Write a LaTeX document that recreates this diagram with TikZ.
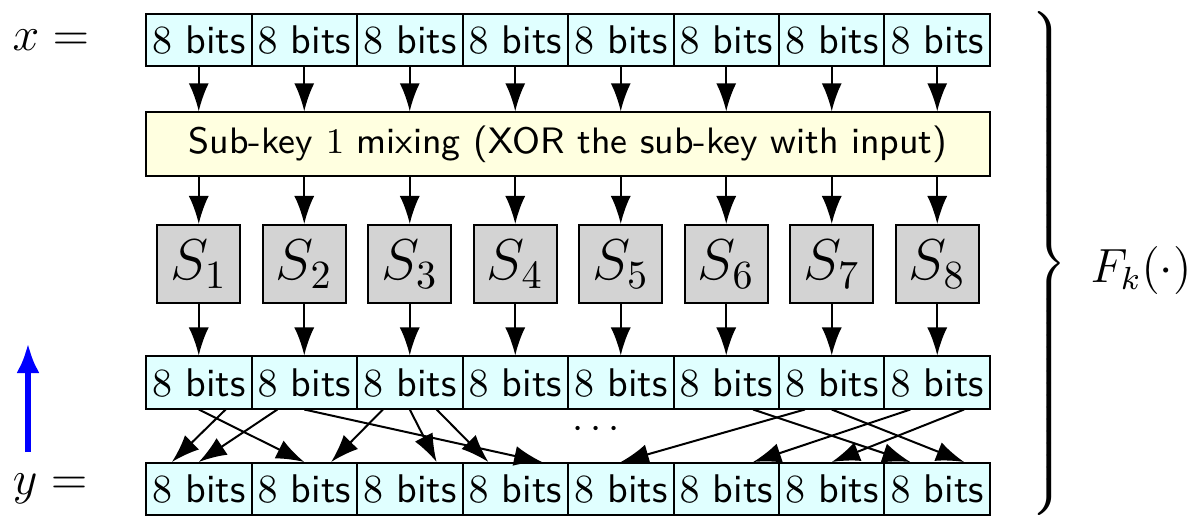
\documentclass[tikz,border=0pt]{standalone}
\usetikzlibrary{arrows.meta,calc}

\definecolor{lightcyan}{RGB}{224,255,255}
\definecolor{lightyellow}{RGB}{255,255,224}
\definecolor{lightgray}{RGB}{211,211,211}
\newcommand{\eightbits}{$8$ bits}
\tikzset{
            bits/.style={draw, fill=lightcyan, minimum width=9.27mm, minimum height=4.57mm, inner sep=0pt},
            mixbox/.style={draw, fill=lightyellow, minimum width=74.17mm, minimum height=4.57mm, font=\sffamily\fontsize{9.2}{11}\selectfont},
            sbox/.style={draw, fill=lightgray, minimum width=6.94mm, minimum height=6.86mm, font=\Large}
        }

\begin{document}
\begin{tikzpicture}[
                    font=\sffamily,
                    line width=0.5pt,
                    >={Latex[length=7pt,width=5pt]},
                    ->
                    ]
                \useasboundingbox (0,0) rectangle (10.518,4.640);
                % the four rows of boxes
                \foreach \i in {1,...,8} {
                    \node[bits] (x\i) at ({1.7465+(\i-1)*0.927},4.288) {\eightbits};
                    \node[sbox] (s\i) at ({1.7465+(\i-1)*0.927},2.320) {$S_{\i}$};
                    \node[bits] (p\i) at ({1.7465+(\i-1)*0.927},1.279) {\eightbits};
                    \node[bits] (y\i) at ({1.7465+(\i-1)*0.927},0.343) {\eightbits};
                }
                \node[mixbox] (key) at (4.991,3.374) {Sub-key $1$ mixing (XOR the sub-key with input)};
                \foreach \i in {1,...,8} {
                    \draw (x\i.south) -- (x\i.south |- key.north);
                    \draw (key.south -| s\i.north) -- (s\i.north);
                    \draw (s\i.south) -- (p\i.north);
                }
                % permutation
                \foreach \a/\fa/\b/\fb in {1/0.5/2/0.5, 1/0.75/1/0.25, 2/0.25/1/0.5, 2/0.5/4/0.75,
                                           3/0.25/2/0.75, 3/0.5/3/0.75, 3/0.75/4/0.25, 6/0.75/8/0.25,
                                           7/0.25/5/0.5, 7/0.5/8/0.75, 8/0.25/6/0.75, 8/0.75/7/0.5}
                    \draw ($(p\a.south west)!\fa!(p\a.south east)$) -- ($(y\b.north west)!\fb!(y\b.north east)$);
                \node (dots) at (5.237,0.861) {$\cdots$};
                % labels
                \node[font=\large] (xlabel) at (0.448,4.288) {$x =$};
                \node[font=\large] (ylabel) at (0.44,0.343) {$y =$};
                \coordinate (up0) at (0.246,0.668);
                \coordinate (up1) at (0.246,1.626);
                \draw[blue, line width=1.5pt, -{Latex[length=7.5pt,width=5.8pt]}] (up0) -- (up1);
                \node[inner sep=0pt] (brace) at (9.20,2.302) {$\left.\rule[-62pt]{0pt}{124pt}\right\}$};
                \node[font=\large] (fk) at (10.026,2.267) {$F_k(\cdot)$};
            \end{tikzpicture}
\end{document}
